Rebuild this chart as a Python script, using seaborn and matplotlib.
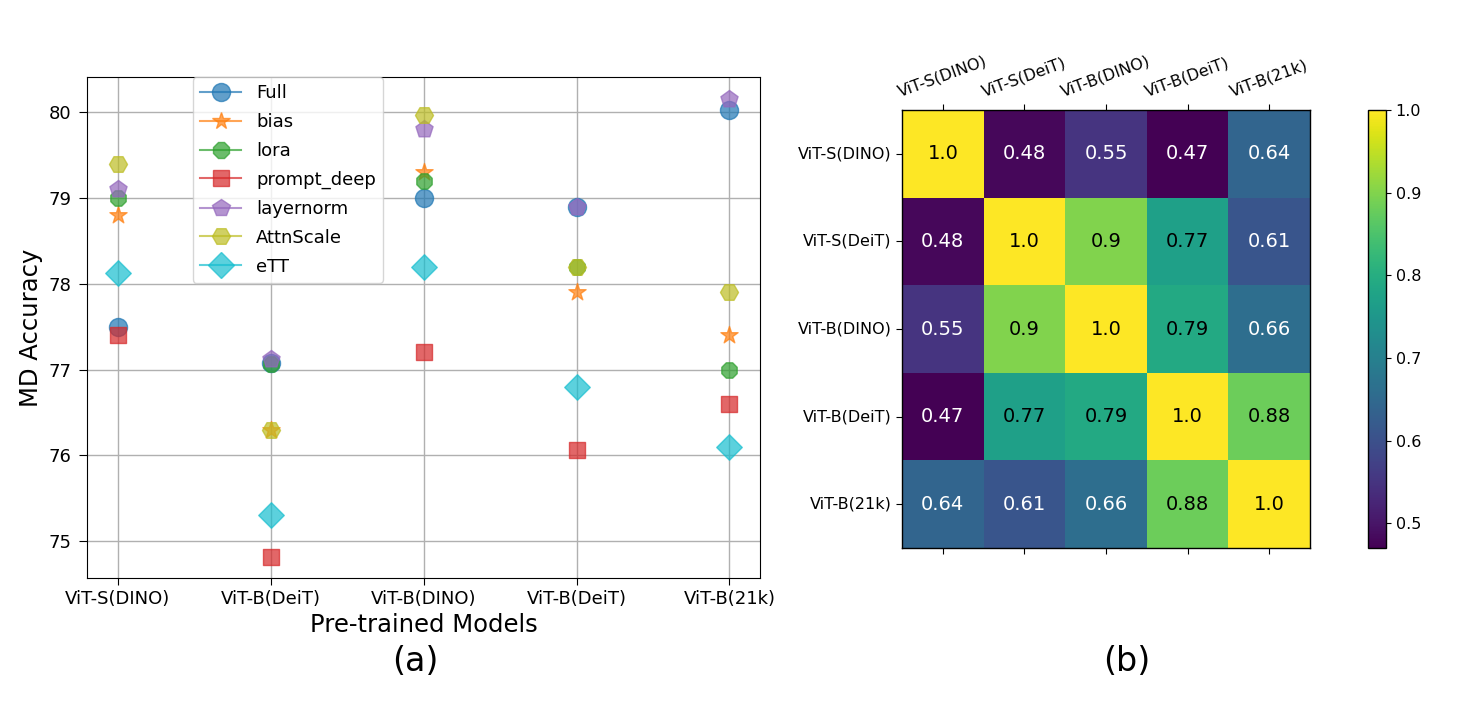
import numpy as np
import pandas as pd
import seaborn as sns
import matplotlib.pyplot as plt
from matplotlib.lines import Line2D

# ---------------- data ----------------
model_labels = ["ViT-S(DINO)", "ViT-B(DeiT)", "ViT-B(DINO)", "ViT-B(DeiT)", "ViT-B(21k)"]
methods = ["Full", "bias", "lora", "prompt_deep", "layernorm", "AttnScale", "eTT"]

acc_full = [77.5, 77.08, 79.0, 78.9, 80.02]
acc_bias = [78.8, 76.3, 79.3, 77.9, 77.4]
acc_lora = [79.0, 77.07, 79.2, 78.2, 77.0]
acc_prompt_deep = [77.4, 74.82, 77.2, 76.06, 76.6]
acc_layernorm = [79.1, 77.12, 79.8, 78.9, 80.15]
acc_attnscale = [79.4, 76.3, 79.97, 78.2, 77.9]
acc_ett = [78.13, 75.3, 78.2, 76.8, 76.1]

heat_labels = ["ViT-S(DINO)", "ViT-S(DeiT)", "ViT-B(DINO)", "ViT-B(DeiT)", "ViT-B(21k)"]
sim_row0 = [1.0, 0.48, 0.55, 0.47, 0.64]
sim_row1 = [0.48, 1.0, 0.9, 0.77, 0.61]
sim_row2 = [0.55, 0.9, 1.0, 0.79, 0.66]
sim_row3 = [0.47, 0.77, 0.79, 1.0, 0.88]
sim_row4 = [0.64, 0.61, 0.66, 0.88, 1.0]

# ---------------- styles ----------------
colors = {"Full": "#1f77b4", "bias": "#ff7f0e", "lora": "#2ca02c",
          "prompt_deep": "#d62728", "layernorm": "#9467bd",
          "AttnScale": "#bcbd22", "eTT": "#17becf"}
markers = {"Full": "o", "bias": "*", "lora": "8", "prompt_deep": "s",
           "layernorm": "p", "AttnScale": "H", "eTT": "D"}
sizes = {"Full": 13, "bias": 13, "lora": 12, "prompt_deep": 12,
         "layernorm": 13, "AttnScale": 13, "eTT": 13}

series = [acc_full, acc_bias, acc_lora, acc_prompt_deep, acc_layernorm, acc_attnscale, acc_ett]
rows = []
for m, vals in zip(methods, series):
    for i, v in enumerate(vals):
        rows.append({"pos": i, "acc": v, "method": m})
df = pd.DataFrame(rows)

sim = pd.DataFrame([sim_row0, sim_row1, sim_row2, sim_row3, sim_row4],
                   index=heat_labels, columns=heat_labels)

plt.rcParams["font.family"] = ["DejaVu Sans"]
fig = plt.figure(figsize=(14.58, 7.04), dpi=100)

# ---------------- (a) scatter ----------------
ax1 = fig.add_axes([0.0597, 0.179, 0.4616, 0.7116])
for m in methods:
    sub = df[df["method"] == m]
    sns.scatterplot(data=sub, x="pos", y="acc", ax=ax1, color=colors[m],
                    marker=markers[m], s=sizes[m] ** 2, alpha=0.7,
                    edgecolor=colors[m], linewidth=1, legend=False, zorder=3)
ax1.set_xlim(-0.2, 4.2)
ax1.set_ylim(74.57, 80.41)
ax1.set_xticks(range(len(model_labels)))
ax1.set_xticklabels(model_labels, fontsize=13)
ax1.tick_params(axis="y", labelsize=13, length=6, pad=5)
ax1.tick_params(axis="x", length=5)
ax1.grid(True, color="#b0b0b0", linewidth=1)
ax1.set_axisbelow(True)
ax1.set_xlabel("Pre-trained Models", fontsize=17.5)
ax1.set_ylabel("MD Accuracy", fontsize=17.5)

handles = [Line2D([0], [0], color=colors[m], marker=markers[m], markersize=sizes[m],
                  alpha=0.7, linewidth=1.5) for m in methods]
ax1.legend(handles, methods, loc="upper left", bbox_to_anchor=(0.157, 1.0),
           borderaxespad=0, fontsize=13, handlelength=2.3, labelspacing=0.6)

# ---------------- (b) heatmap ----------------
ax2 = fig.add_axes([0.6187, 0.2216, 0.2798, 0.622])
cax = fig.add_axes([0.9383, 0.2216, 0.0123, 0.622])
annot = sim.map(lambda v: f"{v:g}" if v != 1.0 else "1.0")
sns.heatmap(sim, ax=ax2, cbar_ax=cax, cmap="viridis", annot=annot, fmt="",
            annot_kws={"fontsize": 14})
for t, v in zip(ax2.texts, sim.values.flatten()):
    t.set_color("black" if v > 0.7 else "white")

ax2.xaxis.tick_top()
ax2.tick_params(top=True, bottom=True, labeltop=True, labelbottom=False,
                left=True, length=4)
ax2.set_xticklabels(heat_labels, rotation=20, ha="center", fontsize=11.5)
ax2.set_yticklabels(heat_labels, rotation=0, fontsize=11.5)
ax2.set_xlabel("")
ax2.set_ylabel("")
for sp in ax2.spines.values():
    sp.set_visible(True)
    sp.set_linewidth(1)

cax.set_yticks([0.5, 0.6, 0.7, 0.8, 0.9, 1.0])
cax.tick_params(labelsize=11.5)
cb = ax2.collections[0].colorbar
cb.outline.set_visible(True)
cb.outline.set_linewidth(1)

fig.text(0.2846, 0.0597, "(a)", fontsize=24, ha="center", va="center")
fig.text(0.773, 0.0597, "(b)", fontsize=24, ha="center", va="center")

fig.savefig("out.png", dpi=100)
